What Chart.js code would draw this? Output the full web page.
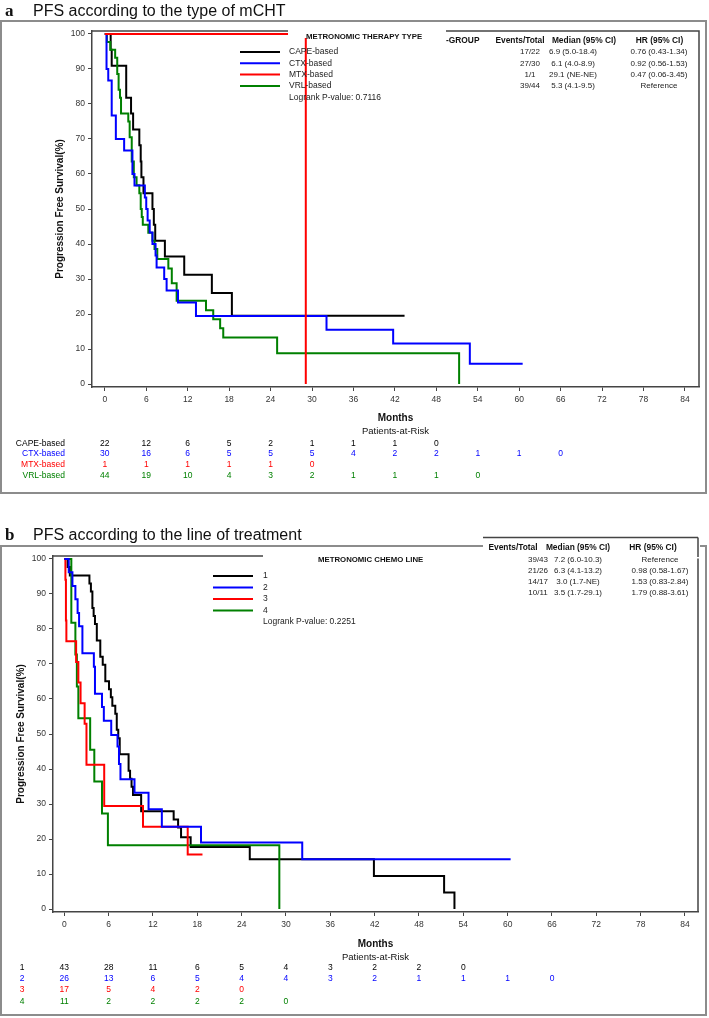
<!DOCTYPE html>
<html>
<head>
<meta charset="utf-8">
<title>PFS Kaplan-Meier</title>
<script src="https://cdn.jsdelivr.net/npm/chart.js@4/dist/chart.umd.min.js"></script>
<style>
  html, body { margin: 0; padding: 0; background: #fff; }
  body { position: relative; width: 709px; height: 1018px; overflow: hidden; }
  canvas { position: absolute; left: 0; }
  .titulo { position: absolute; left: 5px; z-index: 2; white-space: nowrap; color: #111;
            font: 16px/16px 'Liberation Sans', Arial, sans-serif; }
  .titulo b { display: inline-block; width: 28px; font: bold 17px/16px 'Liberation Serif', 'Times New Roman', serif; }
</style>
</head>
<body>
<div class="titulo" style="top:3px"><b>a</b>PFS according to the type of mCHT</div>
<div class="titulo" style="top:527px"><b>b</b>PFS according to the line of treatment</div>
<canvas id="kmA" width="709" height="500" style="top:0"></canvas>
<canvas id="kmB" width="709" height="518" style="top:500px"></canvas>
<script>
const FUENTE = "'Liberation Sans', Arial, sans-serif";

// ejes
const mesesTicks = [0, 6, 12, 18, 24, 30, 36, 42, 48, 54, 60, 66, 72, 78, 84];
const supTicks = [0, 10, 20, 30, 40, 50, 60, 70, 80, 90, 100];

// ---- panel a: tipo de mCHT ----
const capeT = [0, 0.85, 1.0, 3.1, 3.8, 4.1, 5.0, 5.2, 5.3, 5.6, 6.9, 7.1, 7.3, 8.7, 11.5, 15.5, 18.4, 43.4];
const capeS = [100, 95.5, 90.9, 81.8, 77.3, 72.7, 68.2, 63.6, 59.1, 54.5, 50.0, 45.5, 40.9, 36.4, 31.2, 26.0, 19.5, 19.5];
const ctxT = [0, 0.25, 0.5, 1.0, 1.6, 2.8, 4.0, 4.3, 5.8, 6.0, 6.2, 6.5, 6.9, 7.35, 7.5, 8.6, 8.95, 10.6, 13.2, 32.1, 41.75, 52.85, 60.5];
const ctxS = [100, 90.0, 86.7, 76.7, 70.0, 66.7, 60.0, 56.7, 53.3, 50.0, 46.7, 43.3, 40.0, 36.7, 33.3, 30.0, 26.7, 23.3, 19.4, 15.5, 11.6, 5.8, 5.8];
const mtxT = [0, 29.1];
const mtxS = [100, 0];
const vrlT = [0, 0.3, 0.8, 1.5, 1.8, 2.0, 2.2, 2.35, 3.4, 3.6, 3.9, 4.2, 4.6, 5.0, 5.2, 5.35, 5.5, 6.3, 6.9, 7.2, 7.6, 9.2, 9.7, 10.4, 14.65, 15.7, 16.7, 17.15, 24.95, 51.3];
const vrlS = [100, 97.7, 95.5, 93.2, 88.6, 84.1, 81.8, 77.3, 75.0, 70.5, 63.6, 59.1, 56.8, 54.5, 50.0, 47.7, 45.5, 43.2, 40.9, 38.6, 35.7, 33.0, 28.8, 23.8, 21.1, 18.5, 15.9, 13.3, 8.8, 0];

const gruposA = ['CAPE-based', 'CTX-based', 'MTX-based', 'VRL-based'];
const eventosA = ['17/22', '27/30', '1/1', '39/44'];
const medianaA = ['6.9 (5.0-18.4)', '6.1 (4.0-8.9)', '29.1 (NE-NE)', '5.3 (4.1-9.5)'];
const hrA = ['0.76 (0.43-1.34)', '0.92 (0.56-1.53)', '0.47 (0.06-3.45)', 'Reference'];
const riesgoCape = [22, 12, 6, 5, 2, 1, 1, 1, 0];
const riesgoCtx = [30, 16, 6, 5, 5, 5, 4, 2, 2, 1, 1, 0];
const riesgoMtx = [1, 1, 1, 1, 1, 0];
const riesgoVrl = [44, 19, 10, 4, 3, 2, 1, 1, 1, 0];

// ---- panel b: linea de tratamiento ----
const l1T = [0, 0.45, 0.75, 3.4, 3.6, 3.8, 3.97, 4.15, 4.4, 4.87, 5.2, 5.55, 6.05, 6.3, 6.5, 6.9, 7.1, 7.3, 7.5, 8.7, 8.9, 9.1, 9.3, 10.4, 14.8, 15.4, 15.8, 17.1, 25.1, 41.9, 51.4, 52.8];
const l1S = [100, 97.7, 95.3, 93.0, 90.7, 86.0, 83.7, 81.4, 76.7, 72.1, 69.8, 65.1, 62.8, 60.5, 58.1, 55.8, 51.2, 48.8, 44.2, 39.5, 37.2, 34.9, 32.6, 27.9, 25.6, 23.3, 20.5, 17.7, 14.2, 9.4, 4.7, 0];
const l2T = [0, 0.6, 1.1, 1.5, 1.8, 2.0, 2.45, 4.0, 4.15, 5.1, 5.35, 6.35, 7.2, 7.4, 7.6, 9.5, 11.4, 13.2, 18.5, 32.2, 60.4];
const l2S = [100, 96.2, 92.3, 88.5, 84.6, 80.8, 73.1, 69.2, 61.5, 57.7, 53.8, 49.7, 46.4, 41.4, 37.1, 33.2, 28.5, 23.5, 19.0, 14.2, 14.2];
const l3T = [0, 0.15, 0.22, 0.28, 1.6, 1.9, 2.2, 2.75, 3.0, 5.4, 10.65, 16.7, 18.7];
const l3S = [100, 94.1, 82.4, 76.5, 70.6, 64.7, 58.8, 52.9, 41.2, 29.4, 23.5, 15.6, 15.6];
const l4T = [0, 0.95, 1.5, 1.7, 1.9, 3.5, 4.06, 5.1, 5.9, 29.1];
const l4S = [100, 81.8, 72.7, 63.6, 54.5, 45.5, 36.4, 27.3, 18.2, 0];

const gruposB = ['1', '2', '3', '4'];
const eventosB = ['39/43', '21/26', '14/17', '10/11'];
const medianaB = ['7.2 (6.0-10.3)', '6.3 (4.1-13.2)', '3.0 (1.7-NE)', '3.5 (1.7-29.1)'];
const hrB = ['Reference', '0.98 (0.58-1.67)', '1.53 (0.83-2.84)', '1.79 (0.88-3.61)'];
const riesgo1 = [43, 28, 11, 6, 5, 4, 3, 2, 2, 0];
const riesgo2 = [26, 13, 6, 5, 4, 4, 3, 2, 1, 1, 1, 0];
const riesgo3 = [17, 5, 4, 2, 0];
const riesgo4 = [11, 2, 2, 2, 2, 0];

const colores = ['#000000', '#0000ff', '#ff0000', '#008000'];

function puntos(T, S) { return T.map((t, i) => ({ x: t, y: S[i] })); }

// escalon KM: horizontal hasta el evento y luego baja (en Chart.js es 'before')
function serie(T, S, color, orden) {
  return { data: puntos(T, S), borderColor: color, borderWidth: 2, stepped: 'before',
           pointRadius: 0, fill: false, order: orden };
}

function texto(ctx, s, x, y, font, color, align) {
  ctx.font = font;
  ctx.fillStyle = color || '#111';
  ctx.textAlign = align || 'left';
  ctx.textBaseline = 'middle';
  ctx.fillText(s, x, y);
}

// todo lo que no son curvas: marco, leyenda, tabla, pacientes en riesgo
function dibujarPanel(chart, P) {
  const ctx = chart.ctx, a = chart.chartArea, oy = P.oy, xs = chart.scales.x;
  ctx.save();
  ctx.strokeStyle = '#8c8c8c'; ctx.lineWidth = 2;
  ctx.strokeRect(1, P.caja[0] - oy, 705, P.caja[1] - P.caja[0]);

  ctx.strokeStyle = '#444'; ctx.lineWidth = 1.5;
  ctx.beginPath();
  ctx.moveTo(a.left, a.top); ctx.lineTo(a.right, a.top); ctx.lineTo(a.right, a.bottom);
  ctx.stroke();

  ctx.fillStyle = '#fff';
  P.tapas.forEach(r => ctx.fillRect(r[0], r[1] - oy, r[2] - r[0], r[3] - r[1]));
  ctx.strokeStyle = '#444'; ctx.lineWidth = 1.5;
  P.lineas.forEach(l => {
    ctx.beginPath(); ctx.moveTo(l[0], l[1] - oy); ctx.lineTo(l[2], l[3] - oy); ctx.stroke();
  });

  // leyenda
  const L = P.leyenda;
  texto(ctx, L.titulo, L.tx, L.ty - oy, 'bold 7.8px ' + FUENTE, '#111');
  P.grupos.forEach((g, i) => {
    const y = L.y0 + i * L.dy - oy;
    ctx.strokeStyle = colores[i]; ctx.lineWidth = 2;
    ctx.beginPath(); ctx.moveTo(L.x1, y); ctx.lineTo(L.x2, y); ctx.stroke();
    texto(ctx, g, L.xt, y, '8.5px ' + FUENTE, '#222');
  });
  texto(ctx, P.logrank, L.xt, L.y0 + 4 * L.dy - oy, '8.5px ' + FUENTE, '#222');

  // tabla
  const T = P.tabla;
  T.cab.forEach(c => texto(ctx, c[0], c[1], T.hy - oy, 'bold 8.4px ' + FUENTE, '#111', c[2]));
  for (let i = 0; i < 4; i++) {
    const y = T.y0 + i * T.dy - oy;
    texto(ctx, P.eventos[i], T.cx[0], y, '8px ' + FUENTE, '#222', 'center');
    texto(ctx, P.mediana[i], T.cx[1], y, '8px ' + FUENTE, '#222', 'center');
    texto(ctx, P.hr[i], T.cx[2], y, '8px ' + FUENTE, '#222', 'center');
  }

  // titulo eje y
  ctx.save();
  ctx.translate(P.yTit[0], P.yTit[1] - oy);
  ctx.rotate(-Math.PI / 2);
  texto(ctx, 'Progression Free Survival(%)', 0, 0, 'bold 10px ' + FUENTE, '#111', 'center');
  ctx.restore();

  const cx = (a.left + a.right) / 2;
  texto(ctx, 'Months', cx, P.meses - oy, 'bold 10px ' + FUENTE, '#111', 'center');
  texto(ctx, 'Patients-at-Risk', cx, P.meses + 13 - oy, '9.5px ' + FUENTE, '#111', 'center');

  const R = P.riesgo;
  R.filas.forEach((fila, i) => {
    const y = R.y0 + i * R.dy - oy;
    texto(ctx, P.grupos[i], R.lx, y, '8.5px ' + FUENTE, colores[i], R.la);
    fila.forEach((v, k) => {
      texto(ctx, String(v), xs.getPixelForValue(mesesTicks[k]), y, '8.5px ' + FUENTE, colores[i], 'center');
    });
  });
  ctx.restore();
}

function crearKM(id, P, datasets) {
  const ejeComun = {
    grid: { drawOnChartArea: false, drawTicks: true, tickLength: 4, color: '#444', lineWidth: 1 },
    border: { display: true, color: '#444', width: 1.5 }
  };
  const fTick = { family: FUENTE, size: 8.5 };
  return new Chart(document.getElementById(id), {
    type: 'line',
    data: { datasets: datasets },
    options: {
      responsive: false,
      animation: false,
      layout: { padding: { left: 0, top: P.area.t, right: 709 - P.area.r, bottom: P.H - P.area.b - 24 } },
      scales: {
        x: Object.assign({
          type: 'linear', min: P.xMin, max: P.xMax,
          afterBuildTicks: s => { s.ticks = mesesTicks.map(v => ({ value: v })); },
          afterFit: s => { s.height = 24; },
          ticks: { font: fTick, color: '#333', padding: 4, maxRotation: 0, autoSkip: false }
        }, ejeComun),
        y: Object.assign({
          type: 'linear', min: -0.857, max: 100.857,
          afterBuildTicks: s => { s.ticks = supTicks.map(v => ({ value: v })); },
          afterFit: s => { s.width = P.area.l; },
          ticks: { font: fTick, color: '#333', padding: 3, autoSkip: false }
        }, ejeComun)
      },
      plugins: { legend: { display: false }, tooltip: { enabled: false } }
    },
    plugins: [{ id: 'decor' + id, afterDraw: c => dibujarPanel(c, P) }]
  });
}

const PA = {
  oy: 0, H: 500,
  area: { l: 92, r: 699, t: 31, b: 387 },
  xMin: -1.853, xMax: 86.03,
  caja: [21, 493],
  tapas: [[288, 22.5, 446, 38]],
  lineas: [],
  grupos: gruposA, eventos: eventosA, mediana: medianaA, hr: hrA,
  logrank: 'Logrank P-value: 0.7116',
  leyenda: { titulo: 'METRONOMIC THERAPY TYPE', tx: 306, ty: 37, x1: 240, x2: 280, xt: 289, y0: 52, dy: 11.3 },
  tabla: { hy: 41, y0: 52, dy: 11.3, cx: [530, 573, 659],
           cab: [['-GROUP', 446, 'left'], ['Events/Total', 520, 'center'], ['Median (95% CI)', 584, 'center'], ['HR (95% CI)', 659.5, 'center']] },
  yTit: [60, 209],
  meses: 418.5,
  riesgo: { y0: 443.3, dy: 10.8, lx: 65, la: 'right', filas: [riesgoCape, riesgoCtx, riesgoMtx, riesgoVrl] }
};

const PB = {
  oy: 500, H: 518,
  area: { l: 53, r: 698, t: 56, b: 412 },
  xMin: -1.53, xMax: 85.76,
  caja: [546, 1015],
  tapas: [[263, 548, 483, 558.5], [483, 538, 700, 558.5]],
  lineas: [[483, 537.5, 698, 537.5], [698, 537.5, 698, 557]],
  grupos: gruposB, eventos: eventosB, mediana: medianaB, hr: hrB,
  logrank: 'Logrank P-value: 0.2251',
  leyenda: { titulo: 'METRONOMIC CHEMO LINE', tx: 318, ty: 560, x1: 213, x2: 253, xt: 263, y0: 576, dy: 11.5 },
  tabla: { hy: 548, y0: 560, dy: 10.8, cx: [538, 578, 660],
           cab: [['Events/Total', 513, 'center'], ['Median (95% CI)', 578, 'center'], ['HR (95% CI)', 653, 'center']] },
  yTit: [21, 734],
  meses: 944,
  riesgo: { y0: 967.3, dy: 11.4, lx: 22, la: 'center', filas: [riesgo1, riesgo2, riesgo3, riesgo4] }
};

crearKM('kmA', PA, [
  serie(capeT, capeS, colores[0], 3),
  serie(ctxT, ctxS, colores[1], 1),
  serie(mtxT, mtxS, colores[2], 0),
  serie(vrlT, vrlS, colores[3], 2)
]);

crearKM('kmB', PB, [
  serie(l1T, l1S, colores[0], 3),
  serie(l2T, l2S, colores[1], 0),
  serie(l3T, l3S, colores[2], 1),
  serie(l4T, l4S, colores[3], 2)
]);
</script>
</body>
</html>
